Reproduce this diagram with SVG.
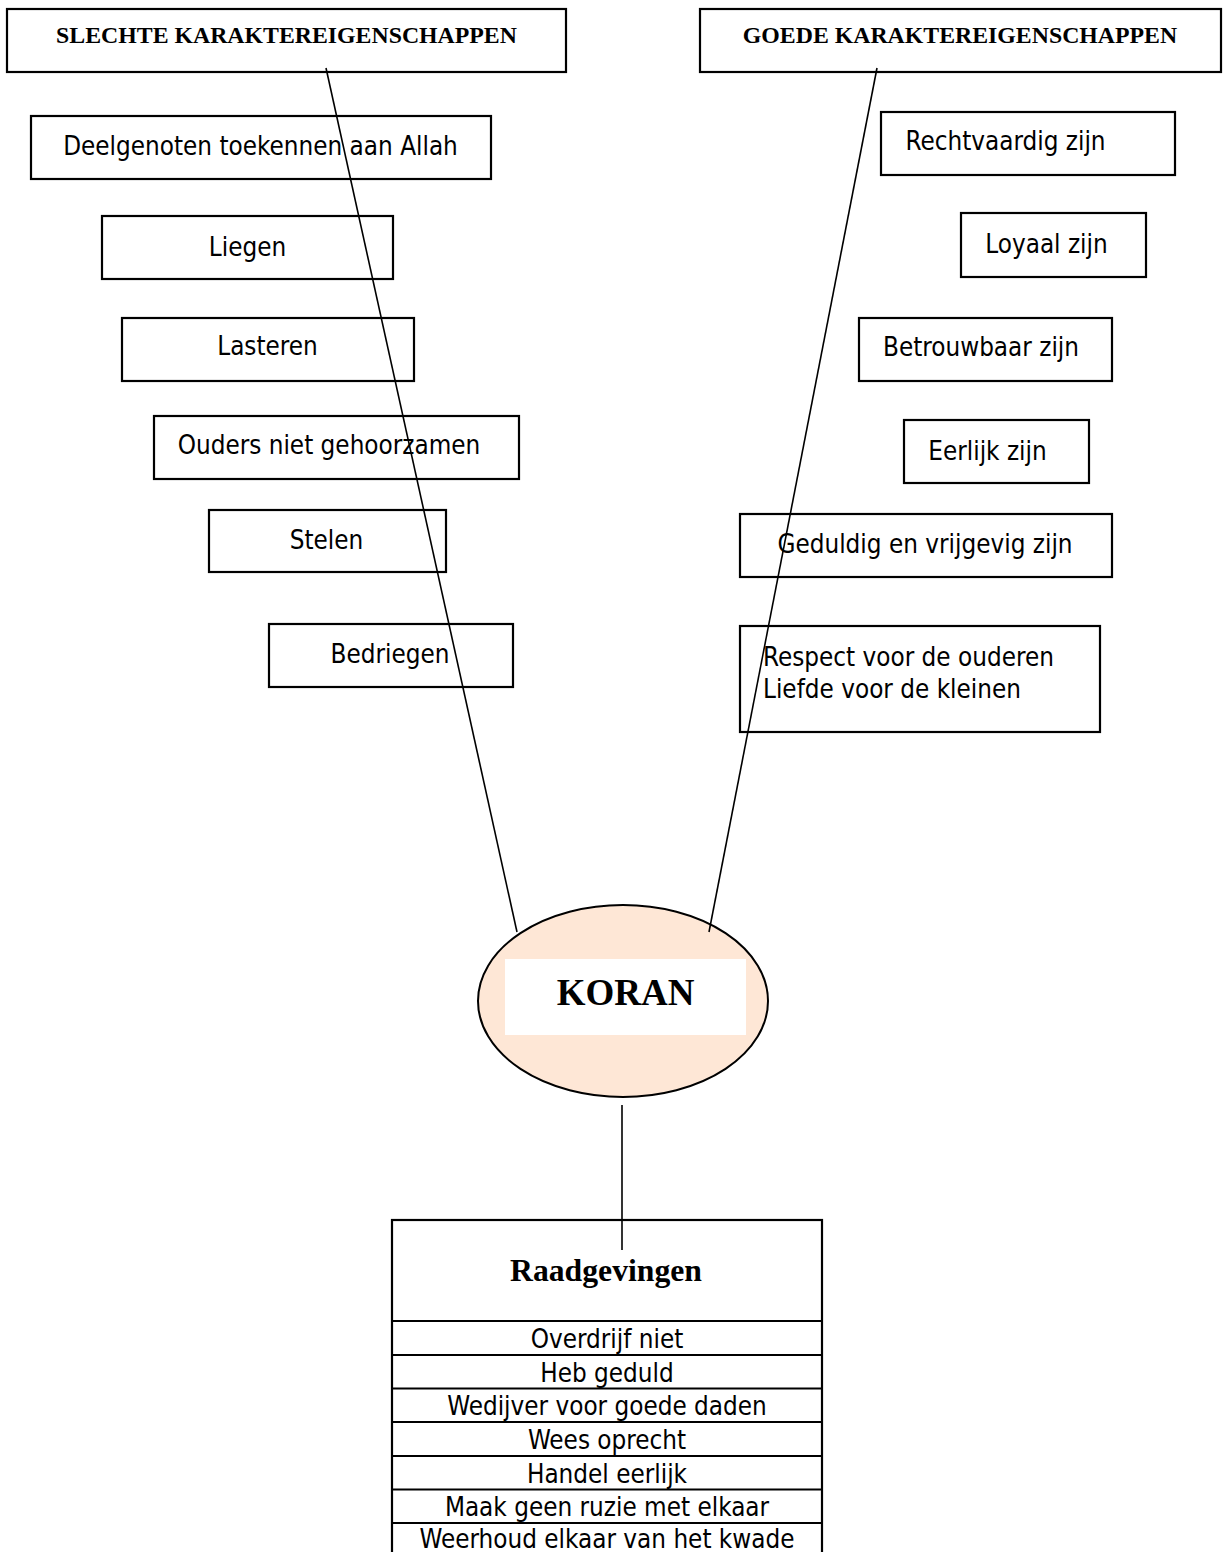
<svg xmlns="http://www.w3.org/2000/svg" width="1223" height="1552" viewBox="0 0 1223 1552">
<style>
.box{fill:#fff;stroke:#000;stroke-width:2.2}
.t{font-family:"DejaVu Sans Condensed","DejaVu Sans",sans-serif;font-stretch:condensed;font-size:25.8px;fill:#000}
.c{text-anchor:middle}
.h{font-family:"Liberation Serif","Times New Roman",serif;font-weight:bold;font-size:23.8px;fill:#000;text-anchor:middle}
.ln{stroke:#000;stroke-width:1.6;fill:none}
</style>
<rect width="1223" height="1552" fill="#fff"/>
<g id="header-slecht">
<rect class="box" x="7" y="9" width="559" height="63"/>
<text class="h" x="286.5" y="43">SLECHTE KARAKTEREIGENSCHAPPEN</text>
</g>
<g id="header-goed">
<rect class="box" x="700" y="9" width="521" height="63"/>
<text class="h" x="960" y="43">GOEDE KARAKTEREIGENSCHAPPEN</text>
</g>
<g id="s1"><rect class="box" x="31" y="116" width="460" height="63"/><text class="t c" x="260.5" y="155">Deelgenoten toekennen aan Allah</text></g>
<g id="s2"><rect class="box" x="102" y="216" width="291" height="63"/><text class="t c" x="247.5" y="255.5">Liegen</text></g>
<g id="s3"><rect class="box" x="122" y="318" width="292" height="63"/><text class="t c" x="267.5" y="355">Lasteren</text></g>
<g id="s4"><rect class="box" x="154" y="416" width="365" height="63"/><text class="t c" x="329" y="454">Ouders niet gehoorzamen</text></g>
<g id="s5"><rect class="box" x="209" y="510" width="237" height="62"/><text class="t c" x="326.5" y="549">Stelen</text></g>
<g id="s6"><rect class="box" x="269" y="624" width="244" height="63"/><text class="t c" x="390" y="663">Bedriegen</text></g>
<g id="g1"><rect class="box" x="881" y="112" width="294" height="63"/><text class="t c" x="1005.5" y="150">Rechtvaardig zijn</text></g>
<g id="g2"><rect class="box" x="961" y="213" width="185" height="64"/><text class="t c" x="1046.5" y="253">Loyaal zijn</text></g>
<g id="g3"><rect class="box" x="859" y="318" width="253" height="63"/><text class="t c" x="981" y="356">Betrouwbaar zijn</text></g>
<g id="g4"><rect class="box" x="904" y="420" width="185" height="63"/><text class="t c" x="987.5" y="460">Eerlijk zijn</text></g>
<g id="g5"><rect class="box" x="740" y="514" width="372" height="63"/><text class="t c" x="925" y="553">Geduldig en vrijgevig zijn</text></g>
<g id="g6"><rect class="box" x="740" y="626" width="360" height="106"/><text class="t" x="763" y="666">Respect voor de ouderen</text><text class="t" x="763" y="698">Liefde voor de kleinen</text></g>
<g id="koran">
<ellipse cx="623" cy="1001" rx="145" ry="96" fill="#FEE7D6" stroke="#000" stroke-width="2"/>
<rect x="505" y="959" width="241" height="76" fill="#fff"/>
<text class="h" x="625.5" y="1005" style="font-size:37px">KORAN</text>
</g>
<g id="raadgevingen">
<rect class="box" x="392" y="1220" width="430" height="340"/>
<text class="h" x="606" y="1281" style="font-size:31.7px">Raadgevingen</text>
<g class="ln" style="stroke-width:2.2">
<line x1="392" y1="1321" x2="822" y2="1321"/>
<line x1="392" y1="1355" x2="822" y2="1355"/>
<line x1="392" y1="1388.5" x2="822" y2="1388.5"/>
<line x1="392" y1="1422" x2="822" y2="1422"/>
<line x1="392" y1="1456" x2="822" y2="1456"/>
<line x1="392" y1="1489.5" x2="822" y2="1489.5"/>
<line x1="392" y1="1523" x2="822" y2="1523"/>
</g>
<text class="t c" x="607" y="1347.5">Overdrijf niet</text>
<text class="t c" x="607" y="1381.5">Heb geduld</text>
<text class="t c" x="607" y="1415">Wedijver voor goede daden</text>
<text class="t c" x="607" y="1448.5">Wees oprecht</text>
<text class="t c" x="607" y="1482.5">Handel eerlijk</text>
<text class="t c" x="607" y="1516">Maak geen ruzie met elkaar</text>
<text class="t c" x="607" y="1548">Weerhoud elkaar van het kwade</text>
</g>
<g id="connectors">
<line class="ln" x1="326" y1="68" x2="517" y2="932"/>
<line class="ln" x1="877" y1="68" x2="709" y2="932"/>
<line class="ln" x1="622" y1="1105" x2="622" y2="1250"/>
</g>
</svg>
